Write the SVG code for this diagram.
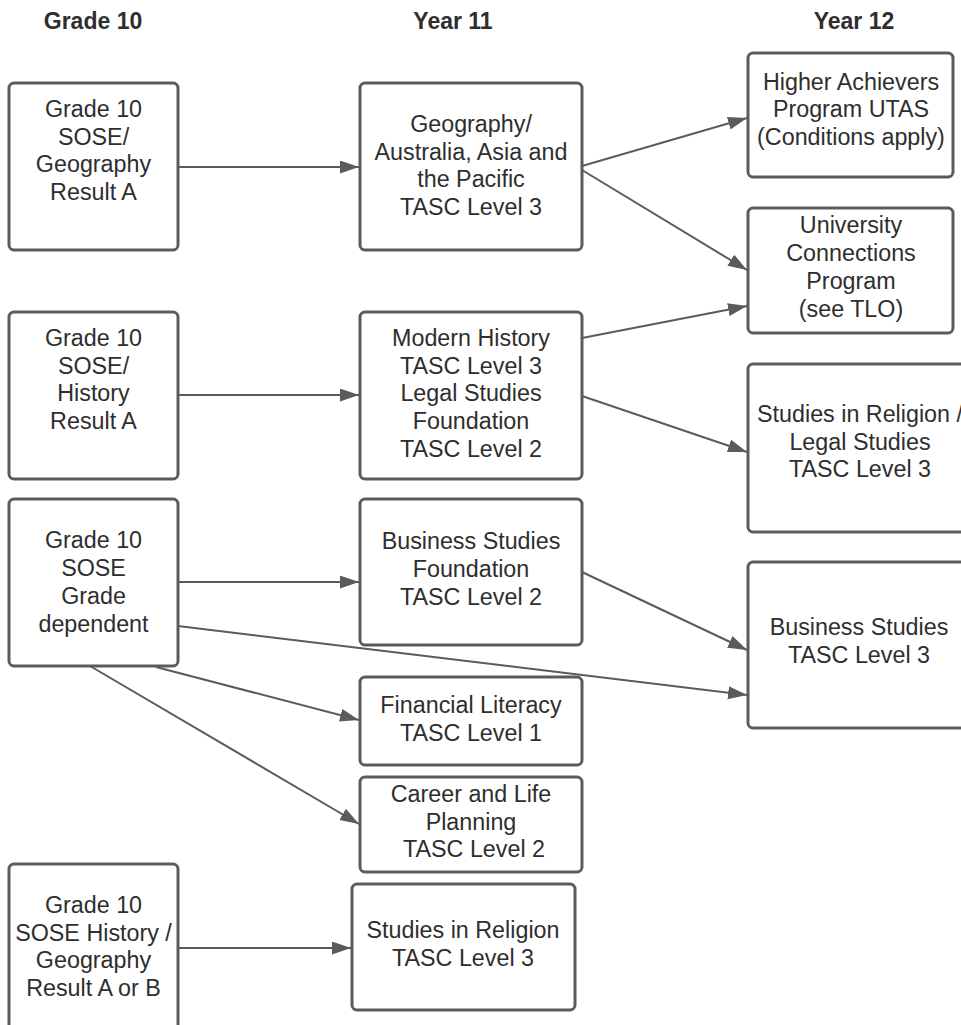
<svg xmlns="http://www.w3.org/2000/svg" width="961" height="1025" viewBox="0 0 961 1025">
<style>
.box{fill:#fff;stroke:#595c5f;stroke-width:3}
.t{font-family:"Liberation Sans",Arial,sans-serif;font-size:23.3px;fill:#2e2e2e;text-anchor:middle}
.h{font-family:"Liberation Sans",Arial,sans-serif;font-size:23px;font-weight:bold;fill:#2e2e2e;text-anchor:middle}
.c{stroke:#595c5f;stroke-width:2;fill:none;marker-end:url(#ah)}
</style>
<defs>
<marker id="ah" markerUnits="userSpaceOnUse" markerWidth="20" markerHeight="14" refX="19" refY="6.5" orient="auto">
<path d="M0,0 L19,6.5 L0,13 z" fill="#595c5f"/>
</marker>
</defs>
<rect width="961" height="1025" fill="#fff"/>
<g id="headers">
<text class="h" x="93" y="29">Grade 10</text>
<text class="h" x="453" y="29">Year 11</text>
<text class="h" x="854" y="29">Year 12</text>
</g>
<g id="connectors">
<line class="c" x1="178" y1="167" x2="359" y2="167"/>
<line class="c" x1="178" y1="395" x2="359" y2="395"/>
<line class="c" x1="178" y1="582" x2="359" y2="582"/>
<line class="c" x1="178" y1="626" x2="747" y2="695"/>
<line class="c" x1="156" y1="667" x2="359" y2="720"/>
<line class="c" x1="90" y1="666" x2="359" y2="824"/>
<line class="c" x1="178" y1="948" x2="351" y2="948"/>
<line class="c" x1="582" y1="166" x2="747" y2="118"/>
<line class="c" x1="582" y1="170" x2="747" y2="270"/>
<line class="c" x1="582" y1="338" x2="747" y2="306"/>
<line class="c" x1="582" y1="396" x2="747" y2="452"/>
<line class="c" x1="582" y1="572" x2="747" y2="650"/>
</g>
<g id="g10-geo">
<rect class="box" x="9" y="83" width="169" height="167" rx="5"/>
<text class="t"><tspan x="93.5" y="117">Grade 10</tspan><tspan x="93.5" y="145">SOSE/</tspan><tspan x="93.5" y="172">Geography</tspan><tspan x="93.5" y="200">Result A</tspan></text>
</g>
<g id="g10-hist">
<rect class="box" x="9" y="312" width="169" height="167" rx="5"/>
<text class="t"><tspan x="93.5" y="346">Grade 10</tspan><tspan x="93.5" y="374">SOSE/</tspan><tspan x="93.5" y="401">History</tspan><tspan x="93.5" y="429">Result A</tspan></text>
</g>
<g id="g10-sose">
<rect class="box" x="9" y="499" width="169" height="167" rx="5"/>
<text class="t"><tspan x="93.5" y="548">Grade 10</tspan><tspan x="93.5" y="576">SOSE</tspan><tspan x="93.5" y="604">Grade</tspan><tspan x="93.5" y="632">dependent</tspan></text>
</g>
<g id="g10-histgeo">
<rect class="box" x="9" y="864" width="169" height="180" rx="5"/>
<text class="t"><tspan x="93.5" y="913">Grade 10</tspan><tspan x="93.5" y="941">SOSE History /</tspan><tspan x="93.5" y="968">Geography</tspan><tspan x="93.5" y="996">Result A or B</tspan></text>
</g>
<g id="y11-geo">
<rect class="box" x="360" y="83" width="222" height="167" rx="5"/>
<text class="t"><tspan x="471" y="132">Geography/</tspan><tspan x="471" y="160">Australia, Asia and</tspan><tspan x="471" y="187">the Pacific</tspan><tspan x="471" y="215">TASC Level 3</tspan></text>
</g>
<g id="y11-hist">
<rect class="box" x="360" y="312" width="222" height="167" rx="5"/>
<text class="t"><tspan x="471" y="346">Modern History</tspan><tspan x="471" y="374">TASC Level 3</tspan><tspan x="471" y="401">Legal Studies</tspan><tspan x="471" y="429">Foundation</tspan><tspan x="471" y="457">TASC Level 2</tspan></text>
</g>
<g id="y11-bus">
<rect class="box" x="360" y="499" width="222" height="146" rx="5"/>
<text class="t"><tspan x="471" y="549">Business Studies</tspan><tspan x="471" y="577">Foundation</tspan><tspan x="471" y="605">TASC Level 2</tspan></text>
</g>
<g id="y11-fin">
<rect class="box" x="360" y="677" width="222" height="88" rx="5"/>
<text class="t"><tspan x="471" y="713">Financial Literacy</tspan><tspan x="471" y="741">TASC Level 1</tspan></text>
</g>
<g id="y11-career">
<rect class="box" x="360" y="777" width="222" height="95" rx="5"/>
<text class="t"><tspan x="471" y="802">Career and Life</tspan><tspan x="471" y="830">Planning</tspan><tspan x="474" y="857">TASC Level 2</tspan></text>
</g>
<g id="y11-rel">
<rect class="box" x="352" y="884" width="223" height="126" rx="5"/>
<text class="t"><tspan x="463" y="938">Studies in Religion</tspan><tspan x="463" y="966">TASC Level 3</tspan></text>
</g>
<g id="y12-hap">
<rect class="box" x="748" y="53" width="205" height="124" rx="5"/>
<text class="t"><tspan x="851" y="90">Higher Achievers</tspan><tspan x="851" y="117">Program UTAS</tspan><tspan x="851" y="145">(Conditions apply)</tspan></text>
</g>
<g id="y12-ucp">
<rect class="box" x="748" y="208" width="205" height="125" rx="5"/>
<text class="t"><tspan x="851" y="233">University</tspan><tspan x="851" y="261">Connections</tspan><tspan x="851" y="289">Program</tspan><tspan x="851" y="317">(see TLO)</tspan></text>
</g>
<g id="y12-rel">
<rect class="box" x="748" y="364" width="230" height="168" rx="5"/>
<text class="t"><tspan x="860" y="422">Studies in Religion /</tspan><tspan x="860" y="450">Legal Studies</tspan><tspan x="860" y="477">TASC Level 3</tspan></text>
</g>
<g id="y12-bus">
<rect class="box" x="748" y="562" width="230" height="166" rx="5"/>
<text class="t"><tspan x="859" y="635">Business Studies</tspan><tspan x="859" y="663">TASC Level 3</tspan></text>
</g>
</svg>
